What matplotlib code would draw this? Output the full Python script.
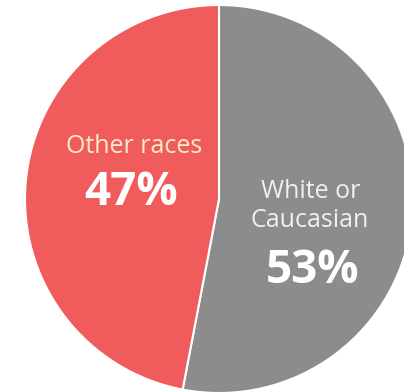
import matplotlib
matplotlib.use('Agg')
import matplotlib.pyplot as plt

# Share of respondents by race
groups = ['White or\nCaucasian', 'Other races']
shares = [53, 47]
colors = ['#8c8c8c', '#f05b5b']
label_colors = ['#f0f0f0', '#fdebd0']

W, H = 404, 392
fig = plt.figure(figsize=(W / 100, H / 100), dpi=100)
ax = fig.add_axes([0, 0, 1, 1])

# Pie drawn in pixel-like data units so it can run off the canvas edges
cx, cy, r = 219, H - 199, 194
ax.pie(shares, colors=colors, startangle=90, counterclock=False,
       center=(cx, cy), radius=r,
       wedgeprops=dict(edgecolor='white', linewidth=1.5))
ax.set_xlim(0, W)
ax.set_ylim(0, H)
ax.set_aspect('equal')
ax.axis('off')

font = 'Open Sans'

# Gray slice labels
ax.text(311, H - 198, 'White or', ha='center', va='baseline',
        fontsize=18, color=label_colors[0], family=font)
ax.text(310, H - 227, 'Caucasian', ha='center', va='baseline',
        fontsize=18, color=label_colors[0], family=font)
ax.text(313, H - 283, f'{shares[0]}%', ha='center', va='baseline',
        fontsize=33, fontweight='bold', color='white', family=font)

# Red slice labels
ax.text(134.5, H - 153, groups[1], ha='center', va='baseline',
        fontsize=18, color=label_colors[1], family=font)
ax.text(131.5, H - 205, f'{shares[1]}%', ha='center', va='baseline',
        fontsize=33, fontweight='bold', color='white', family=font)

fig.savefig('out.png', dpi=100)
